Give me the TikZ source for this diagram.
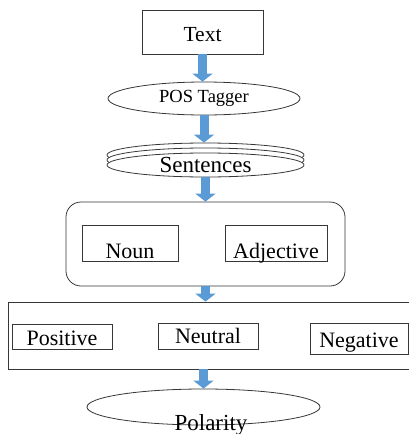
\documentclass[tikz,border=0pt]{standalone}
\usepackage{fontspec}
\setmainfont{Liberation Serif}
\usetikzlibrary{shapes.geometric,arrows.meta,positioning}
\definecolor{flowblue}{RGB}{91,155,213}
\definecolor{edgegray}{RGB}{55,55,55}

\begin{document}
\begin{tikzpicture}[x=1pt,y=-1pt,
    flow/.style={line width=9pt, flowblue, -{Triangle[width=20pt,length=8pt]}},
    tbox/.style={draw=edgegray, line width=0.8pt, rectangle, inner sep=0pt,
                 font=\fontsize{22}{24}\selectfont},
    oval/.style={draw=edgegray, line width=0.8pt, ellipse, inner sep=0pt, fill=white},
    group/.style={draw=edgegray, line width=0.8pt, rectangle, inner sep=0pt}]
  \useasboundingbox (0,0) rectangle (409,434);
  \clip (0,0) rectangle (409,434);

  % input and tagging
  \node[tbox, minimum width=121pt, text height=31pt, text depth=13pt,
        font=\fontsize{21.5}{24}\selectfont] (text) at (202.5,32) {Text};
  \node[oval, minimum width=192pt, minimum height=33pt,
        font=\fontsize{18.5}{20}\selectfont] (pos) at (204,98.5) {POS Tagger};

  % stacked sentences
  \node[oval, minimum width=197pt, minimum height=24pt] (sent3) at (205.5,155) {};
  \node[oval, minimum width=197pt, minimum height=24pt] (sent2) at (205.5,160) {};
  \node[oval, minimum width=197pt, minimum height=24pt,
        font=\fontsize{23}{24}\selectfont] (sent) at (205.5,165) {Sentences};

  % parts of speech
  \node[group, rounded corners=15pt, minimum width=279pt, minimum height=84pt] (words) at (205.5,244) {};
  \node[tbox, minimum width=96pt, text height=33pt, text depth=3pt] (noun) at (130,243) {Noun};
  \node[tbox, minimum width=102pt, text height=33pt, text depth=3pt] (adj) at (276,243) {Adjective};

  % sentiment classes
  \node[group, minimum width=404pt, minimum height=67pt] (classes) at (210,335.5) {};
  \node[tbox, minimum width=100pt, text height=21pt, text depth=4pt] (posv) at (62,336.5) {Positive};
  \node[tbox, minimum width=100pt, text height=20pt, text depth=6pt] (neut) at (208,336) {Neutral};
  \node[tbox, minimum width=98pt, text height=24pt, text depth=7pt] (negv) at (359,338.5) {Negative};

  % output
  \node[oval, minimum width=233pt, minimum height=36pt,
        label={[anchor=base, inner sep=0pt, xshift=7.5pt, yshift=-18pt,
                font=\fontsize{23}{24}\selectfont]center:Polarity}]
        (pol) at (203.5,407) {};

  % flow arrows
  \draw[flow] (text.south) -- (text.south |- pos.north);
  \draw[flow] (pos.south) -- (pos.south |- sent3.north);
  \draw[flow] (sent.south) -- (sent.south |- words.north);
  \draw[flow] (words.south) -- (words.south |- classes.north);
  \draw[flow] (pol.north |- classes.south) -- (pol.north);
\end{tikzpicture}
\end{document}
